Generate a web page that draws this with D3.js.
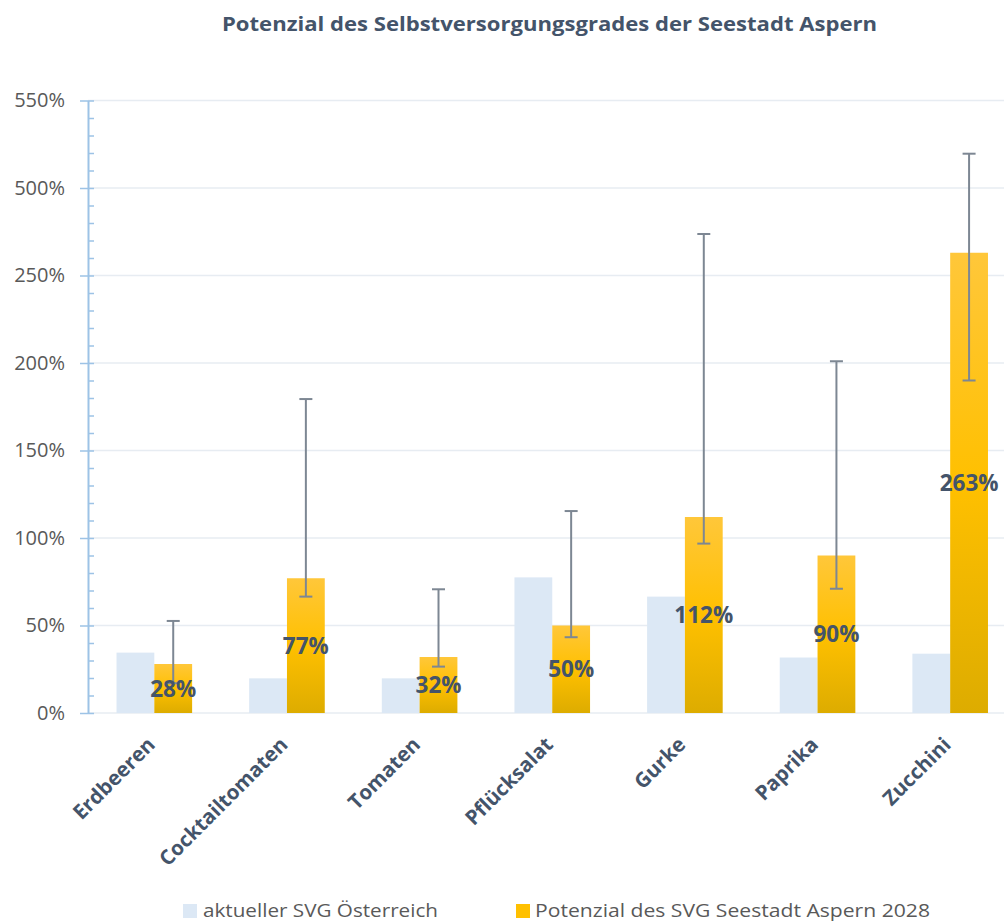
<!DOCTYPE html>
<html>
<head>
<meta charset="utf-8">
<script src="https://cdn.jsdelivr.net/npm/d3@7"></script>
<style>
  body { margin: 0; background: #fff; }
  text { font-family: "Open Sans", sans-serif; }
</style>
</head>
<body>
<svg id="chart" width="1004" height="922"></svg>
<script>
const categories = ['Erdbeeren', 'Cocktailtomaten', 'Tomaten', 'Pflücksalat', 'Gurke', 'Paprika', 'Zucchini'];
const currentValues = [34.5, 19.8, 19.8, 77.5, 66.5, 31.7, 33.9];
const potentialValues = [28, 77, 32, 50, 112, 90, 263];
const errorLow = [17, 66.5, 26.5, 43.3, 96.8, 71, 190];
const errorHigh = [52.6, 179.4, 70.7, 115.4, 273.7, 201, 319.6];
const tickValues = [0, 50, 100, 150, 200, 250, 300, 350];
const tickLabels = ['0%', '50%', '100%', '150%', '200%', '250%', '500%', '550%'];
const seriesNames = ['aktueller SVG Österreich', 'Potenzial des SVG Seestadt Aspern 2028'];
const title = 'Potenzial des Selbstversorgungsgrades der Seestadt Aspern';

const svg = d3.select('#chart');
const plotLeft = 88, plotRight = 1016.5, plotTop = 100.5, plotBottom = 713;
const barW = 37.8;

const x = d3.scaleBand().domain(categories).range([plotLeft, plotRight]);
const y = d3.scaleLinear().domain([0, 350]).range([plotBottom, plotTop]);

const defs = svg.append('defs');
const grad = defs.append('linearGradient')
  .attr('id', 'gold')
  .attr('x1', 0).attr('y1', 0).attr('x2', 0).attr('y2', 1);
grad.append('stop').attr('offset', '0%').attr('stop-color', '#ffc73a');
grad.append('stop').attr('offset', '50%').attr('stop-color', '#ffc000');
grad.append('stop').attr('offset', '100%').attr('stop-color', '#ddac00');

// title
svg.append('text')
  .attr('x', 549.5).attr('y', 31)
  .attr('text-anchor', 'middle')
  .attr('font-size', 19)
  .attr('font-weight', 'bold')
  .attr('fill', '#44546a')
  .attr('textLength', 655)
  .attr('lengthAdjust', 'spacingAndGlyphs')
  .text(title);

// gridlines
svg.append('g')
  .selectAll('line')
  .data(tickValues)
  .enter().append('line')
  .attr('x1', plotLeft).attr('x2', 1004)
  .attr('y1', function (d) { return y(d); })
  .attr('y2', function (d) { return y(d); })
  .attr('stroke', '#e7ecf2')
  .attr('stroke-width', 1.6);

// bars
const groups = svg.append('g')
  .selectAll('g')
  .data(categories)
  .enter().append('g')
  .attr('transform', function (d) { return 'translate(' + (x(d) + x.bandwidth() / 2) + ',0)'; });

groups.append('rect')
  .attr('x', -barW)
  .attr('width', barW)
  .attr('y', function (d, i) { return y(currentValues[i]); })
  .attr('height', function (d, i) { return plotBottom - y(currentValues[i]); })
  .attr('fill', '#dce8f5');

groups.append('rect')
  .attr('x', 0)
  .attr('width', barW)
  .attr('y', function (d, i) { return y(potentialValues[i]); })
  .attr('height', function (d, i) { return plotBottom - y(potentialValues[i]); })
  .attr('fill', 'url(#gold)');

// error bars
const err = groups.append('g')
  .attr('transform', 'translate(' + (barW / 2) + ',0)')
  .attr('stroke', '#7d8793')
  .attr('stroke-width', 2);
err.append('line')
  .attr('y1', function (d, i) { return y(errorLow[i]); })
  .attr('y2', function (d, i) { return y(errorHigh[i]); });
err.append('line')
  .attr('x1', -6.5).attr('x2', 6.5)
  .attr('y1', function (d, i) { return y(errorHigh[i]); })
  .attr('y2', function (d, i) { return y(errorHigh[i]); });
err.append('line')
  .attr('x1', -6.5).attr('x2', 6.5)
  .attr('y1', function (d, i) { return y(errorLow[i]); })
  .attr('y2', function (d, i) { return y(errorLow[i]); });

// value labels
groups.append('text')
  .attr('x', barW / 2)
  .attr('y', function (d, i) { return (plotBottom + y(potentialValues[i])) / 2; })
  .attr('dy', '0.36em')
  .attr('text-anchor', 'middle')
  .attr('font-size', 22.5)
  .attr('font-weight', 'bold')
  .attr('fill', '#44546a')
  .text(function (d, i) { return potentialValues[i] + '%'; });

// y axis
const minor = svg.append('g')
  .attr('transform', 'translate(' + plotLeft + ',0)')
  .call(d3.axisRight(y).tickValues(d3.range(0, 351, 10)).tickSize(6).tickFormat(''));
minor.select('.domain').remove();
minor.selectAll('line').attr('stroke', '#9dc3e6').attr('stroke-width', 1.5);

const yAxis = svg.append('g')
  .attr('transform', 'translate(' + plotLeft + ',0)')
  .call(d3.axisLeft(y)
    .tickValues(tickValues)
    .tickFormat(function (d, i) { return tickLabels[i]; })
    .tickSize(8)
    .tickSizeOuter(0)
    .tickPadding(15));
yAxis.select('.domain').attr('stroke', '#9dc3e6').attr('stroke-width', 2);
yAxis.selectAll('line').attr('stroke', '#9dc3e6').attr('stroke-width', 1.5);
yAxis.selectAll('text')
  .attr('font-family', '"Open Sans", sans-serif')
  .attr('font-size', 20)
  .attr('fill', '#595959');

// category labels
svg.append('g')
  .selectAll('text')
  .data(categories)
  .enter().append('text')
  .attr('transform', function (d) {
    return 'translate(' + (x(d) + x.bandwidth() / 2 + 2) + ',746) rotate(-45)';
  })
  .attr('text-anchor', 'end')
  .attr('font-size', 20.5)
  .attr('font-weight', 'bold')
  .attr('fill', '#44546a')
  .text(function (d) { return d; });

// legend
const legendX = [183, 516];
const legendW = [235, 395];
const legendColors = ['#dce8f5', '#ffc000'];
const legend = svg.append('g')
  .selectAll('g')
  .data(seriesNames)
  .enter().append('g')
  .attr('transform', function (d, i) { return 'translate(' + legendX[i] + ',904)'; });
legend.append('rect')
  .attr('width', 14).attr('height', 14)
  .attr('fill', function (d, i) { return legendColors[i]; });
legend.append('text')
  .attr('x', function (d, i) { return i === 0 ? 20 : 19; })
  .attr('y', 13)
  .attr('font-size', 19)
  .attr('fill', '#595959')
  .attr('textLength', function (d, i) { return legendW[i]; })
  .attr('lengthAdjust', 'spacingAndGlyphs')
  .text(function (d) { return d; });
</script>
</body>
</html>
